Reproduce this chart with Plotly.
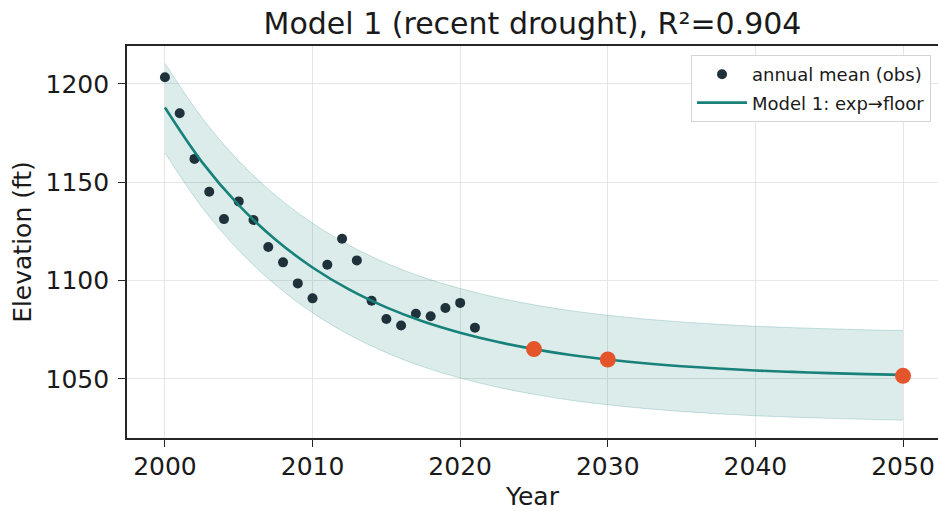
import plotly.graph_objects as go

# Observed annual means
obs_years = list(range(2000, 2022))
obs_elev = [1203.4, 1185.1, 1161.9, 1145.2, 1131.3, 1140.3, 1130.8, 1117.1,
            1109.3, 1098.6, 1091.0, 1108.1, 1121.3, 1110.3, 1089.8, 1080.5,
            1077.2, 1083.2, 1081.9, 1086.1, 1088.7, 1076.1]

# Model curve
model_years = [2000, 2002.5, 2005, 2007.5, 2010, 2012.5, 2015, 2017.5, 2020, 2022.5,
               2025, 2027.5, 2030, 2032.5, 2035, 2037.5, 2040, 2042.5, 2045, 2047.5, 2050]
model_elev = [1188.0, 1160.4, 1138.4, 1120.8, 1106.7, 1095.4, 1086.4, 1079.2, 1073.5, 1068.9,
              1065.2, 1062.2, 1059.9, 1058.0, 1056.5, 1055.3, 1054.3, 1053.6, 1053.0, 1052.5, 1052.1]
band_upper = [1210.5, 1182.9, 1160.9, 1143.3, 1129.2, 1117.9, 1108.9, 1101.7, 1096.0, 1091.4,
              1087.7, 1084.7, 1082.4, 1080.5, 1079.0, 1077.8, 1076.8, 1076.1, 1075.5, 1075.0, 1074.6]
band_lower = [1165.0, 1137.4, 1115.4, 1097.8, 1083.7, 1072.4, 1063.4, 1056.2, 1050.5, 1045.9,
              1042.2, 1039.2, 1036.9, 1035.0, 1033.5, 1032.3, 1031.3, 1030.6, 1030.0, 1029.5, 1029.1]

# Projections
proj_years = [2025, 2030, 2050]
proj_elev = [1065.2, 1059.9, 1051.6]

x_ticks = [2000, 2010, 2020, 2030, 2040, 2050]
y_ticks = [1050, 1100, 1150, 1200]

TEAL = "#17817a"
DOT = "#1f323b"
ORANGE = "#e5552c"
FONT = "DejaVu Sans"
TXT = "#1a1a1a"

W, H = 938, 511

fig = go.Figure()

fig.add_trace(go.Scatter(
    x=model_years, y=band_upper, mode="lines", line=dict(color="rgba(23,129,122,0.22)", width=1,
    shape="spline"), showlegend=False, hoverinfo="skip"))
fig.add_trace(go.Scatter(
    x=model_years, y=band_lower, mode="lines", line=dict(color="rgba(23,129,122,0.22)", width=1,
    shape="spline"), fill="tonexty", fillcolor="rgba(23,129,122,0.15)",
    showlegend=False, hoverinfo="skip"))

fig.add_trace(go.Scatter(
    x=obs_years, y=obs_elev, mode="markers", name="annual mean (obs)",
    marker=dict(color=DOT, size=10), legendgroup="a"))

fig.add_trace(go.Scatter(
    x=model_years, y=model_elev, mode="lines", name="Model 1: exp→floor",
    line=dict(color=TEAL, width=2.6, shape="spline"), legendgroup="b"))

fig.add_trace(go.Scatter(
    x=proj_years, y=proj_elev, mode="markers", showlegend=False,
    marker=dict(color=ORANGE, size=16)))

axis_common = dict(
    showgrid=True, gridcolor="#e6e6e6", gridwidth=1.3,
    showline=True, linecolor="#262626", linewidth=1.6,
    ticks="outside", ticklen=7, tickwidth=1.4, tickcolor="#262626",
    tickfont=dict(family=FONT, size=25, color=TXT),
    zeroline=False,
)

fig.update_layout(
    width=W, height=H,
    margin=dict(l=126.5, r=0, t=46, b=73),
    paper_bgcolor="white", plot_bgcolor="white",
    font=dict(family=FONT, color=TXT),
    title=dict(text="Model 1 (recent drought), R²=0.904",
               font=dict(family=FONT, size=30, color=TXT),
               x=532.5 / W, xanchor="center", xref="container",
               y=1 - 23.6 / H, yanchor="middle", yref="container"),
    xaxis=dict(range=[1997.43, 2052.37], tickvals=x_ticks, mirror=True,
               ticklabelstandoff=-2, automargin=False,
               title=dict(text="Year", font=dict(family=FONT, size=25, color=TXT)),
               **axis_common),
    yaxis=dict(range=[1020.0, 1219.3], tickvals=y_ticks,
               ticklabelstandoff=4, automargin=True,
               title=dict(text="Elevation (ft)", font=dict(family=FONT, size=25, color=TXT),
                          standoff=7),
               **axis_common),
    legend=dict(x=0.9914, y=0.977, xanchor="right", yanchor="top",
                bgcolor="white", bordercolor="#d4d4d4", borderwidth=1,
                font=dict(family=FONT, size=18, color=TXT),
                itemwidth=50,
                traceorder="grouped", tracegroupgap=2),
    showlegend=True,
)

# remove the browser's default 8px page margin so the figure fills the window
fig.write_html("out.html", config={"displayModeBar": False},
               post_script="document.body.style.margin='0';")
